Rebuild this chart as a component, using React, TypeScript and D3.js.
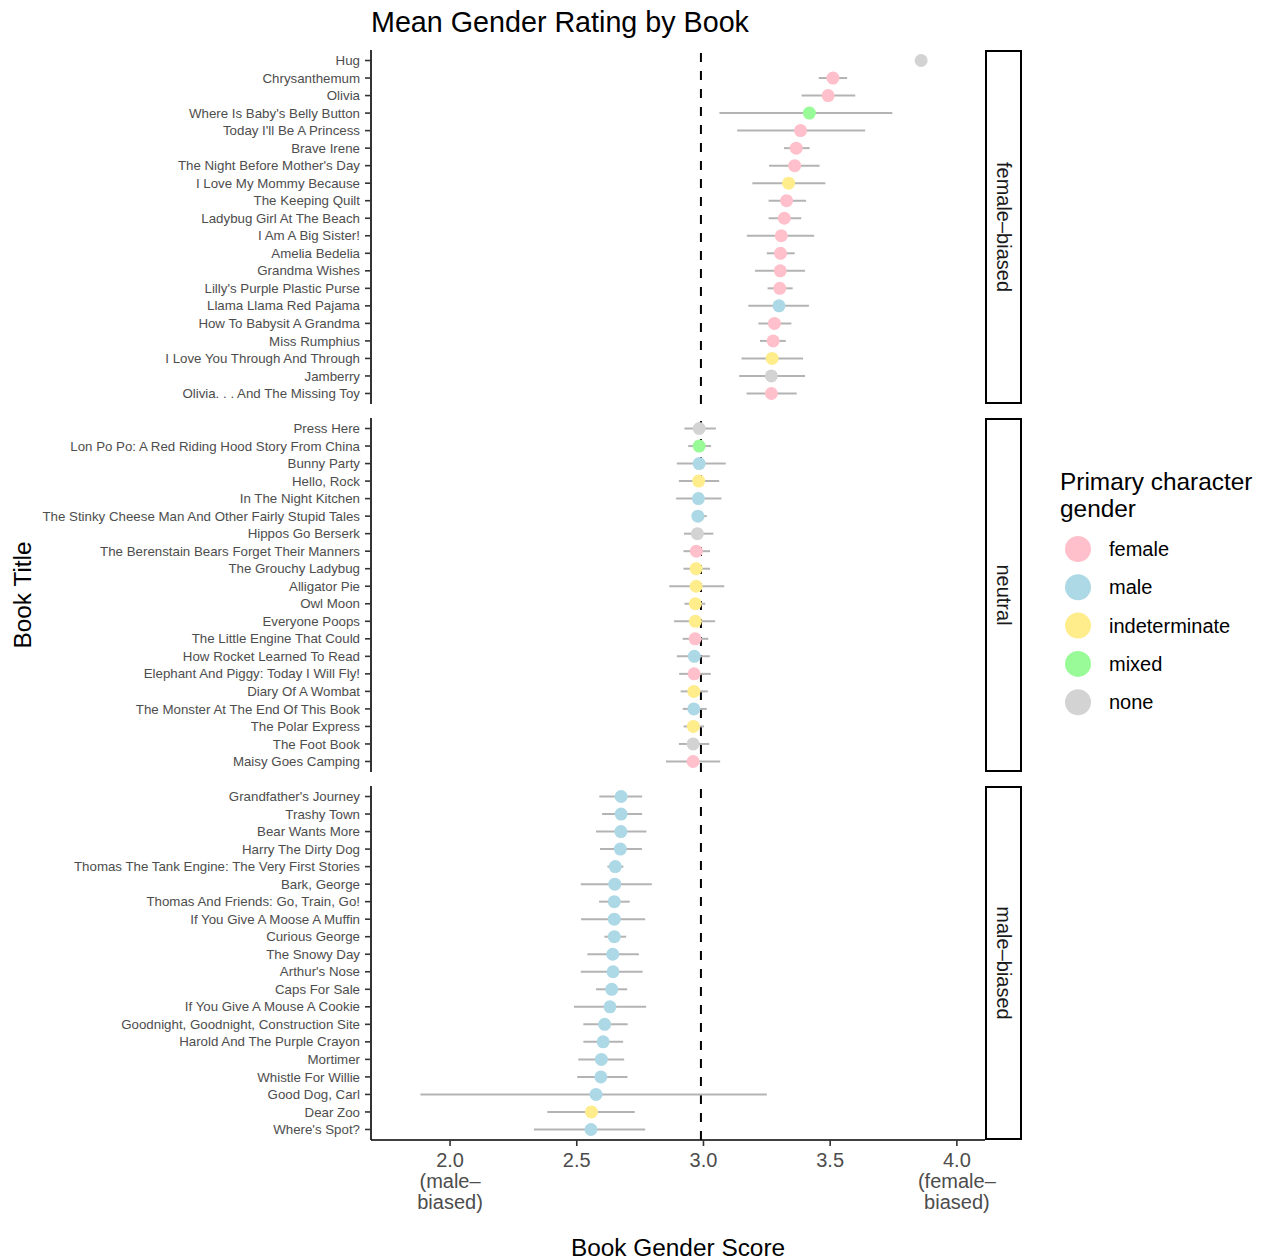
import React from "react";
import * as d3 from "d3";

// ---------- DATA ----------
const facets = ["female–biased", "neutral", "male–biased"];
const genderLevels = ["female", "male", "indeterminate", "mixed", "none"];
const genderColors = ["#FFC0CB", "#ADD8E6", "#FFEC8B", "#98FB98", "#D3D3D3"];

const femaleTitles = [
  "Hug", "Chrysanthemum", "Olivia", "Where Is Baby's Belly Button", "Today I'll Be A Princess",
  "Brave Irene", "The Night Before Mother's Day", "I Love My Mommy Because", "The Keeping Quilt",
  "Ladybug Girl At The Beach", "I Am A Big Sister!", "Amelia Bedelia", "Grandma Wishes",
  "Lilly's Purple Plastic Purse", "Llama Llama Red Pajama", "How To Babysit A Grandma",
  "Miss Rumphius", "I Love You Through And Through", "Jamberry", "Olivia. . . And The Missing Toy",
];
const femaleMeans = [3.859, 3.511, 3.492, 3.418, 3.383, 3.366, 3.360, 3.336, 3.328, 3.319, 3.307, 3.304, 3.303, 3.301, 3.298, 3.280, 3.275, 3.271, 3.268, 3.268];
const femaleLows = [null, 3.455, 3.387, 3.063, 3.133, 3.318, 3.259, 3.193, 3.257, 3.257, 3.171, 3.250, 3.203, 3.253, 3.177, 3.217, 3.223, 3.150, 3.141, 3.170];
const femaleHighs = [null, 3.567, 3.599, 3.745, 3.638, 3.419, 3.458, 3.481, 3.405, 3.386, 3.437, 3.360, 3.401, 3.352, 3.416, 3.347, 3.325, 3.393, 3.401, 3.368];
const femaleGenders = ["none", "female", "female", "mixed", "female", "female", "female", "indeterminate", "female", "female", "female", "female", "female", "female", "male", "female", "female", "indeterminate", "none", "female"];

const neutralTitles = [
  "Press Here", "Lon Po Po: A Red Riding Hood Story From China", "Bunny Party", "Hello, Rock",
  "In The Night Kitchen", "The Stinky Cheese Man And Other Fairly Stupid Tales", "Hippos Go Berserk",
  "The Berenstain Bears Forget Their Manners", "The Grouchy Ladybug", "Alligator Pie", "Owl Moon",
  "Everyone Poops", "The Little Engine That Could", "How Rocket Learned To Read",
  "Elephant And Piggy: Today I Will Fly!", "Diary Of A Wombat", "The Monster At The End Of This Book",
  "The Polar Express", "The Foot Book", "Maisy Goes Camping",
];
const neutralMeans = [2.983, 2.983, 2.983, 2.981, 2.980, 2.978, 2.976, 2.972, 2.971, 2.971, 2.968, 2.968, 2.967, 2.964, 2.963, 2.962, 2.962, 2.960, 2.959, 2.959];
const neutralLows = [2.925, 2.940, 2.895, 2.903, 2.892, 2.954, 2.923, 2.921, 2.921, 2.865, 2.925, 2.884, 2.918, 2.895, 2.904, 2.910, 2.918, 2.922, 2.903, 2.852];
const neutralHighs = [3.049, 3.030, 3.088, 3.062, 3.071, 3.013, 3.039, 3.026, 3.026, 3.082, 3.007, 3.046, 3.019, 3.025, 3.029, 3.017, 3.013, 3.002, 3.023, 3.066];
const neutralGenders = ["none", "mixed", "male", "indeterminate", "male", "male", "none", "female", "indeterminate", "indeterminate", "indeterminate", "indeterminate", "female", "male", "female", "indeterminate", "male", "indeterminate", "none", "female"];

const maleTitles = [
  "Grandfather's Journey", "Trashy Town", "Bear Wants More", "Harry The Dirty Dog",
  "Thomas The Tank Engine: The Very First Stories", "Bark, George", "Thomas And Friends: Go, Train, Go!",
  "If You Give A Moose A Muffin", "Curious George", "The Snowy Day", "Arthur's Nose", "Caps For Sale",
  "If You Give A Mouse A Cookie", "Goodnight, Goodnight, Construction Site", "Harold And The Purple Crayon",
  "Mortimer", "Whistle For Willie", "Good Dog, Carl", "Dear Zoo", "Where's Spot?",
];
const maleMeans = [2.675, 2.675, 2.674, 2.672, 2.652, 2.650, 2.648, 2.648, 2.648, 2.642, 2.643, 2.638, 2.631, 2.610, 2.604, 2.597, 2.595, 2.576, 2.558, 2.556];
const maleLows = [2.589, 2.600, 2.576, 2.592, 2.621, 2.516, 2.588, 2.517, 2.609, 2.542, 2.516, 2.576, 2.489, 2.526, 2.526, 2.506, 2.502, 1.883, 2.384, 2.331];
const maleHighs = [2.758, 2.758, 2.775, 2.757, 2.684, 2.796, 2.709, 2.770, 2.695, 2.745, 2.760, 2.699, 2.774, 2.701, 2.683, 2.687, 2.700, 3.250, 2.729, 2.770];
const maleGenders = ["male", "male", "male", "male", "male", "male", "male", "male", "male", "male", "male", "male", "male", "male", "male", "male", "male", "male", "indeterminate", "male"];

const xTicks = [2.0, 2.5, 3.0, 3.5, 4.0];
const xTickLabels = [["2.0", "(male–", "biased)"], ["2.5"], ["3.0"], ["3.5"], ["4.0", "(female–", "biased)"]];
const neutralLine = 2.99;
const xDomain = [1.688, 4.111];

const panelsData = [
  { titles: femaleTitles, means: femaleMeans, lows: femaleLows, highs: femaleHighs, genders: femaleGenders },
  { titles: neutralTitles, means: neutralMeans, lows: neutralLows, highs: neutralHighs, genders: neutralGenders },
  { titles: maleTitles, means: maleMeans, lows: maleLows, highs: maleHighs, genders: maleGenders },
];

// ---------- LAYOUT ----------
const W = 1263, H = 1260;
const plotLeft = 371, plotRight = 985;
const stripRight = 1022;
const panelTops = [50, 418, 786];
const panelH = 354;
const FONT = "'Liberation Sans', Arial, Helvetica, sans-serif";

export default function App() {
  const x = d3.scaleLinear().domain(xDomain).range([plotLeft, plotRight]);
  const color = d3.scaleOrdinal<string, string>().domain(genderLevels).range(genderColors);
  const bottomY = panelTops[2] + panelH;

  return (
    <svg width={W} height={H} style={{ position: "absolute", left: 0, top: 0, background: "#fff" }} fontFamily={FONT}>
      <text x={560} y={32} textAnchor="middle" fontSize={28.7} fill="#000">Mean Gender Rating by Book</text>

      {panelsData.map((p, pi) => {
        const top = panelTops[pi];
        const y = d3.scalePoint<string>().domain(p.titles).range([top, top + panelH]).padding(0.6);
        return (
          <g key={pi}>
            <line x1={x(neutralLine)} x2={x(neutralLine)} y1={top + panelH} y2={top}
              stroke="#000" strokeWidth={2} strokeDasharray="9,9" />
            {p.titles.map((t, i) =>
              p.lows[i] == null ? null : (
                <line key={"e" + i} x1={x(p.lows[i] as number)} x2={x(p.highs[i] as number)}
                  y1={y(t)} y2={y(t)} stroke="#B3B3B3" strokeWidth={2} />
              )
            )}
            {p.titles.map((t, i) => (
              <circle key={"c" + i} cx={x(p.means[i])} cy={y(t)} r={6.5} fill={color(p.genders[i])} />
            ))}
            <line x1={plotLeft} x2={plotLeft} y1={top} y2={top + panelH} stroke="#000" strokeWidth={1.6} />
            {p.titles.map((t, i) => (
              <g key={"t" + i}>
                <line x1={plotLeft - 6} x2={plotLeft} y1={y(t)} y2={y(t)} stroke="#333" strokeWidth={1.6} />
                <text x={plotLeft - 11} y={(y(t) as number) + 4.6} textAnchor="end" fontSize={13.3} fill="#4D4D4D">{t}</text>
              </g>
            ))}
            <rect x={plotRight + 1} y={top + 1} width={stripRight - plotRight - 2} height={panelH - 2}
              fill="#fff" stroke="#000" strokeWidth={2} />
            <text transform={`translate(${(plotRight + stripRight) / 2 - 7},${top + panelH / 2}) rotate(90)`}
              textAnchor="middle" fontSize={20} fill="#1A1A1A">{facets[pi]}</text>
          </g>
        );
      })}

      <line x1={plotLeft} x2={plotRight} y1={bottomY} y2={bottomY} stroke="#000" strokeWidth={1.6} />
      {xTicks.map((v, i) => (
        <g key={"x" + i}>
          <line x1={x(v)} x2={x(v)} y1={bottomY} y2={bottomY + 6} stroke="#333" strokeWidth={1.6} />
          {xTickLabels[i].map((s, j) => (
            <text key={j} x={x(v)} y={bottomY + 27 + j * 21} textAnchor="middle" fontSize={20} fill="#4D4D4D">{s}</text>
          ))}
        </g>
      ))}
      <text x={678} y={1256} textAnchor="middle" fontSize={24.4} fill="#000">Book Gender Score</text>
      <text transform="translate(31,595) rotate(-90)" textAnchor="middle" fontSize={24.4} fill="#000">Book Title</text>

      <text x={1060} y={490} fontSize={24.4} fill="#000">Primary character</text>
      <text x={1060} y={517} fontSize={24.4} fill="#000">gender</text>
      {genderLevels.map((g, i) => (
        <g key={g}>
          <circle cx={1078} cy={549 + i * 38.3} r={13} fill={genderColors[i]} />
          <text x={1109} y={549 + i * 38.3 + 7} fontSize={20} fill="#000">{g}</text>
        </g>
      ))}
    </svg>
  );
}
